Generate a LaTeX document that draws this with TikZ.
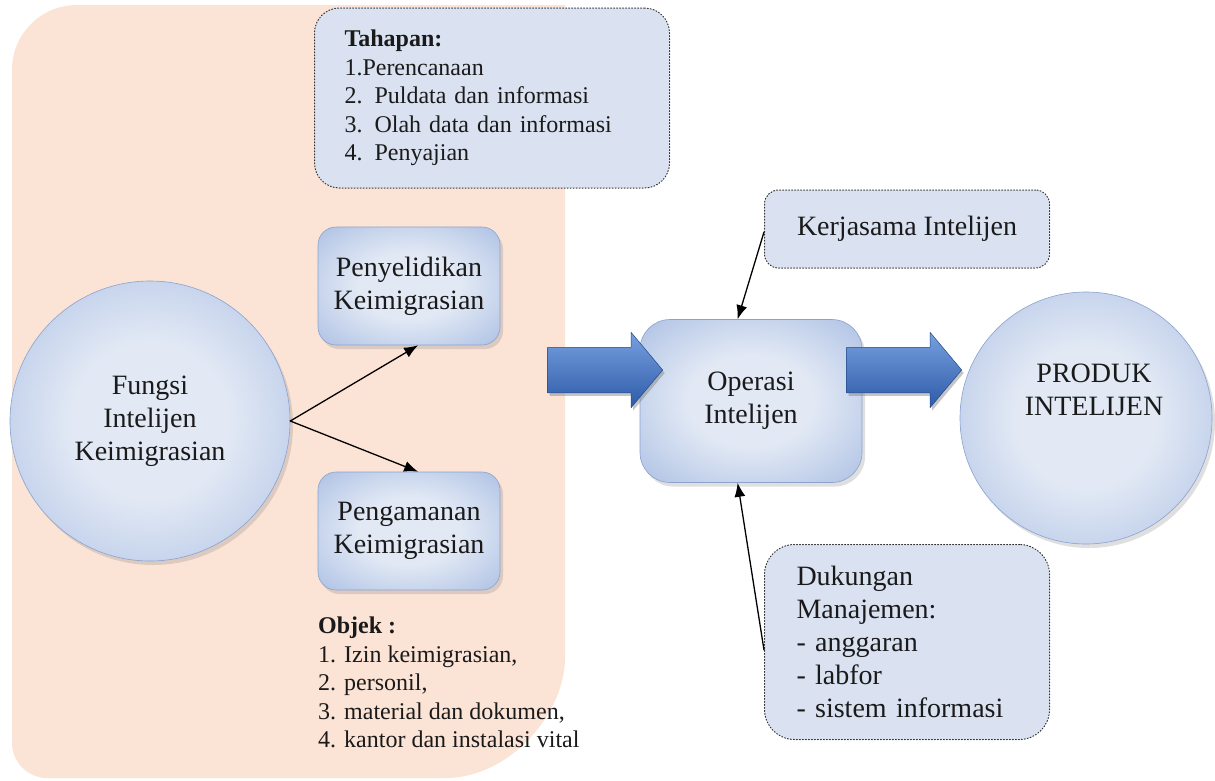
\documentclass[tikz,border=0pt]{standalone}
\usepackage{fontspec}
\setmainfont{Liberation Serif}
\usetikzlibrary{arrows.meta,calc,positioning,shapes.arrows,shadows}
\definecolor{intelPeach}{HTML}{FBE3D6}
\definecolor{intelNote}{HTML}{DAE2F1}
\definecolor{intelLight}{HTML}{E2E9F5}
\definecolor{intelMid}{HTML}{8AA6D8}
\definecolor{intelEdge}{HTML}{8AA3CF}
\definecolor{intelArrowTop}{HTML}{78A0E0}
\definecolor{intelArrowBot}{HTML}{2D5BA8}
\definecolor{intelInk}{HTML}{1A1A1A}
\newcommand{\mainsz}{\fontsize{28}{33}\selectfont}
\newcommand{\listsz}{\fontsize{24}{28.5}\selectfont}
\pgfdeclareradialshading{softglow}{\pgfpoint{0bp}{0bp}}{color(0bp)=(intelLight); color(14bp)=(intelLight); color(34bp)=(intelMid!55!intelLight); color(50bp)=(intelMid); color(80bp)=(intelMid)}

\begin{document}
\begin{tikzpicture}[x=1pt,y=-1pt,>=Latex,line cap=round,line join=round]
\path[fill=white] (0,0) rectangle (1215,780);
% peach panel behind the left half
\path[fill=intelPeach] (565,5) -- (77,5) .. controls (41,5) and (12,34) .. (12,70) -- (12,743)
  .. controls (12,762) and (28,778) .. (47,778) -- (445,778) .. controls (511,778) and (565,712) .. (565,658) -- cycle;
\tikzset{note/.style={draw=black!80,dotted,line width=1pt,fill=intelNote,rounded corners=22pt,text=intelInk},
  orb/.style={circle,draw=intelEdge,line width=0.6pt,shading=softglow,text=intelInk,font=\mainsz,align=center,drop shadow={shadow xshift=3pt,shadow yshift=-4pt,opacity=0.25}},
  softbox/.style={draw=intelEdge,line width=0.6pt,rounded corners=18pt,shading=softglow,text=intelInk,font=\mainsz,align=center,drop shadow={shadow xshift=3pt,shadow yshift=-4pt,opacity=0.25}},
  blockarrow/.style={single arrow,anchor=tip,minimum height=115pt,minimum width=75pt,single arrow head extend=15pt,single arrow tip angle=100,inner xsep=0pt,inner ysep=22.5pt,top color=intelArrowTop,bottom color=intelArrowBot,draw=intelArrowBot!80!black,line width=0.5pt,drop shadow={shadow xshift=2pt,shadow yshift=-3pt,opacity=0.45}},
  link/.style={draw=black,line width=1.3pt,-{Latex[length=14pt,width=11pt]}}}
% notes
\node[note,rounded corners=25pt,minimum width=355pt,minimum height=180pt,text width=295pt,inner xsep=30pt,align=left,font=\listsz] (tahapan) at (492,98)
  {\textbf{Tahapan:}\\1.Perencanaan\\2. Puldata dan informasi\\3. Olah data dan informasi\\4. Penyajian};
\node[note,rounded corners=14pt,minimum width=285pt,minimum height=78pt,font=\mainsz] (kerja) at (907,229) {Kerjasama Intelijen};
\node[note,rounded corners=30pt,minimum width=285pt,minimum height=195pt,text width=221pt,inner xsep=32pt,align=left,font=\mainsz] (dukung) at (907,642)
  {Dukungan\\Manajemen:\\- anggaran\\- labfor\\- sistem informasi};
% main shapes
\node[orb,minimum size=280pt] (fungsi) at (150,421) {Fungsi\\Intelijen\\Keimigrasian};
\node[softbox,minimum width=182pt,minimum height=118pt] (selidik) at (409,286) {Penyelidikan\\Keimigrasian};
\node[softbox,minimum width=182pt,minimum height=118pt] (aman) at (409,531) {Pengamanan\\Keimigrasian};
\node[softbox,rounded corners=30pt,minimum width=222pt,minimum height=163pt] (operasi) at (751,401) {Operasi\\Intelijen};
\node[orb,minimum size=252pt] (produk) at (1086,418) {};
\node[font=\mainsz,text=intelInk,align=center] (produkTeks) at ([xshift=8pt,yshift=28pt]produk.center) {PRODUK\\INTELIJEN};
\node[anchor=north west,align=left,inner sep=0pt,font=\listsz,text=intelInk] (objek) at (318,617)
  {\textbf{Objek :}\\1. Izin keimigrasian,\\2. personil,\\3. material dan dokumen,\\4. kantor dan instalasi vital};
% block arrows
\node[blockarrow] (arrowIn) at (663,370) {};
\node[blockarrow] (arrowOut) at (962,370) {};
% connectors
\draw[link] (fungsi.east) -- ($(selidik.south west)!0.55!(selidik.south east)$);
\draw[link] (fungsi.east) -- ($(aman.north west)!0.55!(aman.north east)$);
\draw[link] ([yshift=-3pt]kerja.west) -- ($(operasi.north west)!0.44!(operasi.north east)$);
\draw[link] ([yshift=-8pt]dukung.west) -- ($(operasi.south west)!0.44!(operasi.south east)$);
\end{tikzpicture}
\end{document}
